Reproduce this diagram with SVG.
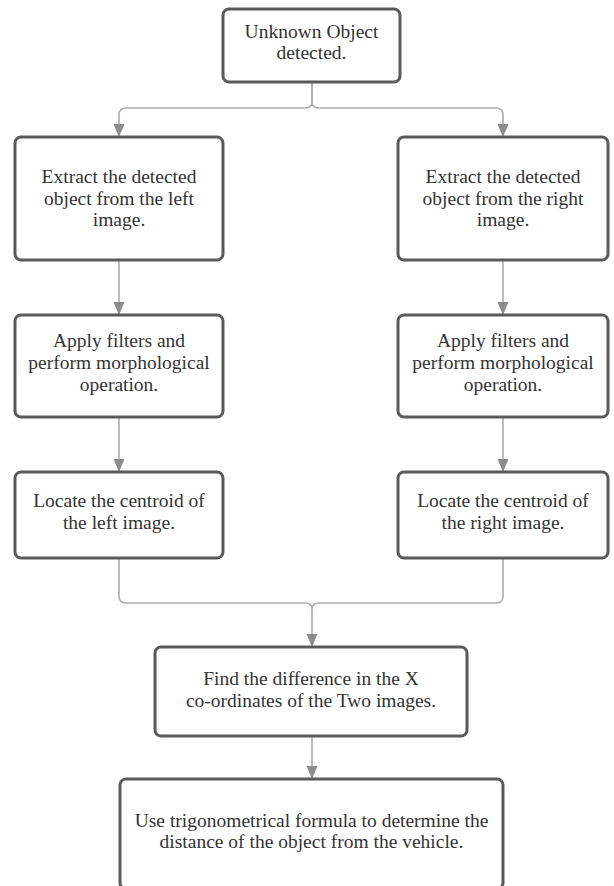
<svg xmlns="http://www.w3.org/2000/svg" width="614" height="886" viewBox="0 0 614 886">
<defs>
<style>
.box{fill:#ffffff;stroke:#5a5a5a;stroke-width:3}
.t{font-family:"Liberation Serif","Times New Roman",serif;font-size:19.5px;fill:#333333;text-anchor:middle}
.c{fill:none;stroke:#adadad;stroke-width:1.6}
</style>
<marker id="ah" markerUnits="userSpaceOnUse" markerWidth="12" markerHeight="14" refX="13" refY="5.5" orient="auto">
<path d="M0,0 L13,5.5 L0,11 z" fill="#8c8c8c"/>
</marker>
</defs>
<rect width="614" height="886" fill="#ffffff"/>
<g id="connectors">
<path class="c" d="M312,82 V102 Q312,108 305,108 H126 Q119,108 119,115 V137" marker-end="url(#ah)"/>
<path class="c" d="M312,82 V102 Q312,108 319,108 H496 Q503,108 503,115 V137" marker-end="url(#ah)"/>
<path class="c" d="M119,260 V315" marker-end="url(#ah)"/>
<path class="c" d="M503,260 V315" marker-end="url(#ah)"/>
<path class="c" d="M119,417 V472" marker-end="url(#ah)"/>
<path class="c" d="M503,417 V472" marker-end="url(#ah)"/>
<path class="c" d="M119,558 V596 Q119,603 126,603 H305 Q312,603 312,609 V647" marker-end="url(#ah)"/>
<path class="c" d="M503,558 V596 Q503,603 496,603 H319 Q312,603 312,609"/>
<path class="c" d="M312,736 V779" marker-end="url(#ah)"/>
</g>
<g id="n1">
<rect class="box" x="223" y="9" width="177" height="73" rx="6"/>
<text class="t" x="311.5" y="38">Unknown Object</text>
<text class="t" x="311.5" y="59">detected.</text>
</g>
<g id="n2">
<rect class="box" x="15" y="137" width="208" height="123" rx="6"/>
<text class="t" x="119" y="183">Extract the detected</text>
<text class="t" x="119" y="205">object from the left</text>
<text class="t" x="119" y="226">image.</text>
</g>
<g id="n3">
<rect class="box" x="398" y="137" width="210" height="123" rx="6"/>
<text class="t" x="503" y="183">Extract the detected</text>
<text class="t" x="503" y="205">object from the right</text>
<text class="t" x="503" y="226">image.</text>
</g>
<g id="n4">
<rect class="box" x="15" y="315" width="208" height="102" rx="6"/>
<text class="t" x="119" y="347">Apply filters and</text>
<text class="t" x="119" y="369">perform morphological</text>
<text class="t" x="119" y="391">operation.</text>
</g>
<g id="n5">
<rect class="box" x="398" y="315" width="210" height="102" rx="6"/>
<text class="t" x="503" y="347">Apply filters and</text>
<text class="t" x="503" y="369">perform morphological</text>
<text class="t" x="503" y="391">operation.</text>
</g>
<g id="n6">
<rect class="box" x="15" y="472" width="208" height="86" rx="6"/>
<text class="t" x="119" y="507">Locate the centroid of</text>
<text class="t" x="119" y="529">the left image.</text>
</g>
<g id="n7">
<rect class="box" x="398" y="472" width="210" height="86" rx="6"/>
<text class="t" x="503" y="507">Locate the centroid of</text>
<text class="t" x="503" y="529">the right image.</text>
</g>
<g id="n8">
<rect class="box" x="155" y="647" width="312" height="89" rx="6"/>
<text class="t" x="311" y="685">Find the difference in the X</text>
<text class="t" x="311" y="707">co-ordinates of the Two images.</text>
</g>
<g id="n9">
<rect class="box" x="120" y="779" width="383" height="110" rx="6"/>
<text class="t" x="311.5" y="827">Use trigonometrical formula to determine the</text>
<text class="t" x="311.5" y="848">distance of the object from the vehicle.</text>
</g>
</svg>
